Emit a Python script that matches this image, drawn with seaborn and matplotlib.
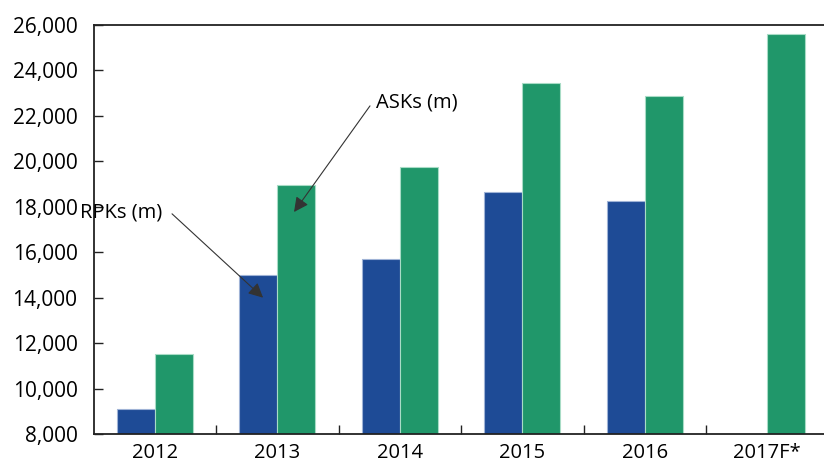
import matplotlib
matplotlib.use("Agg")
import matplotlib.pyplot as plt
import seaborn as sns
import pandas as pd
import numpy as np
from matplotlib.ticker import FuncFormatter, FixedLocator

years = ["2012", "2013", "2014", "2015", "2016", "2017F*"]
rpks = [9100, 15000, 15700, 18650, 18250, np.nan]
asks = [11500, 18950, 19750, 23430, 22880, 25620]
series_names = ["RPKs (m)", "ASKs (m)"]
colors = ["#1E4B96", "#20976A"]

df = pd.DataFrame({
    "year": years * 2,
    "series": [series_names[0]] * len(years) + [series_names[1]] * len(years),
    "value": rpks + asks,
})

sns.set_style("white")
plt.rcParams["font.family"] = ["Open Sans", "DejaVu Sans"]

fig = plt.figure(figsize=(8.24, 4.65), dpi=100)
ax = fig.add_axes([93.5 / 824, 1 - 434 / 465, 735 / 824, (434 - 25) / 465])

sns.barplot(data=df, x="year", y="value", hue="series", palette=colors,
            width=0.62, order=years, hue_order=series_names, legend=False,
            saturation=1, ax=ax, linewidth=0.8)
edge_cols = ["#9FB3D6", "#A8DCC6"]
for i, cont in enumerate(ax.containers):
    for p in cont:
        p.set_edgecolor(edge_cols[i])

ax.set_ylim(8000, 26000)
ax.set_xlim(-0.5, 5.5)
ax.set_yticks(np.arange(8000, 26001, 2000))
ax.yaxis.set_major_formatter(FuncFormatter(lambda v, _: f"{int(v):,}"))
ax.set_xlabel("")
ax.set_ylabel("")

ax.tick_params(axis="y", left=True, direction="in", length=6.5, width=1,
               color="#222222", labelsize=15, pad=11.5, labelcolor="#000000")
ax.tick_params(axis="x", which="major", bottom=True, length=0, labelsize=14.5,
               pad=6.5, labelcolor="#000000")
ax.xaxis.set_minor_locator(FixedLocator(np.arange(0.5, 5.0, 1.0)))
ax.tick_params(axis="x", which="minor", bottom=True, direction="in",
               length=6.5, width=1, color="#222222")

for s in ["left", "bottom", "top"]:
    ax.spines[s].set_visible(True)
    ax.spines[s].set_color("#222222")
    ax.spines[s].set_linewidth(1.3)
ax.spines["right"].set_visible(False)

arrow_kw = dict(arrowstyle="-|>", color="#333333", lw=0.8,
                mutation_scale=22, shrinkA=0, shrinkB=0)
# RPKs label and arrow
ax.text(-0.61, 17730, "RPKs (m)", ha="left", va="center", fontsize=14.5,
        color="#000000", clip_on=False)
ax.annotate("", xy=(0.884, 14000), xytext=(0.141, 17690), arrowprops=arrow_kw)
# ASKs label and arrow
ax.text(1.806, 22570, "ASKs (m)", ha="left", va="center", fontsize=14.5,
        color="#000000")
ax.annotate("", xy=(1.137, 17770), xytext=(1.757, 22440), arrowprops=arrow_kw)

fig.savefig("out.png", dpi=100)
